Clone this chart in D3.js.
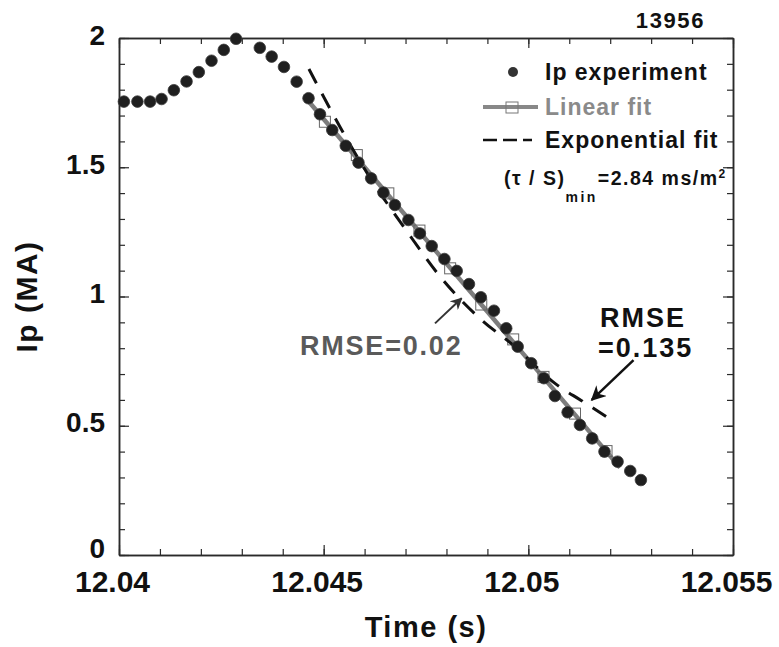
<!DOCTYPE html>
<html><head><meta charset="utf-8">
<script src="https://cdn.jsdelivr.net/npm/d3@7"></script>
<style>
body{margin:0;background:#fff}
svg{display:block}
text{font-family:"Liberation Sans",Arial,Helvetica,sans-serif;font-weight:bold}
</style>
</head><body>
<svg id="c" width="779" height="647"></svg>
<script>
// ---------- data ----------
const ipTime = [12.04012,12.04045,12.04076,12.04104,12.04134,12.04165,12.04195,12.04226,12.04256,12.04286,
  12.04344,12.04373,12.04403,12.04434,12.04463,12.04491,12.04521,12.04554,12.04585,12.04616,
  12.04646,12.04674,12.04707,12.04735,12.04764,12.04795,12.04825,12.04855,12.04884,12.04916,
  12.04946,12.04974,12.05007,12.05038,12.05065,12.05096,12.05126,12.05156,12.05186,12.05218,
  12.05249,12.05275];
const ipValue = [1.754,1.754,1.754,1.764,1.798,1.832,1.868,1.912,1.954,1.997,
  1.962,1.928,1.888,1.831,1.767,1.705,1.644,1.583,1.518,1.457,
  1.402,1.354,1.296,1.244,1.195,1.145,1.099,1.048,0.997,0.945,
  0.877,0.806,0.742,0.684,0.615,0.552,0.503,0.451,0.400,0.361,
  0.325,0.290];

const linLineTime = [12.04462, 12.05224];
const linLineValue = [1.757, 0.338];
const linMarkTime = [12.04503,12.04581,12.04658,12.04734,12.04809,12.04885,12.04963,12.05037,12.05114,12.05191];
const linMarkValue = [1.676,1.547,1.399,1.255,1.109,0.969,0.834,0.689,0.547,0.402];

const expTime = [12.04464,12.04540,12.04613,12.04699,12.04787,12.04889,12.04960,12.05070,12.05131,12.05207];
const expValue = [1.880,1.656,1.460,1.262,1.072,0.905,0.816,0.658,0.596,0.518];

const xMajorTicks = [12.04, 12.045, 12.05, 12.055];
const xTickLabels = ["12.04", "12.045", "12.05", "12.055"];
const yMajorTicks = [0, 0.5, 1, 1.5, 2];
const yTickLabels = ["0", "0.5", "1", "1.5", "2"];
const xMinorTicks = [12.040,12.041,12.042,12.043,12.044,12.045,12.046,12.047,12.048,12.049,12.050,12.051,12.052,12.053,12.054,12.055];
const yMinorTicks = [0,0.1,0.2,0.3,0.4,0.5,0.6,0.7,0.8,0.9,1,1.1,1.2,1.3,1.4,1.5,1.6,1.7,1.8,1.9,2];

const legendLabels = ["Ip experiment", "Linear fit", "Exponential fit"];
const shotLabel = "13956";
const xTitle = "Time (s)";
const yTitle = "Ip (MA)";

// ---------- layout ----------
const L = 119, R = 733, T = 38, B = 555;
const svg = d3.select("#c");
const x = d3.scaleLinear().domain([12.04, 12.055]).range([L, R]);
const y = d3.scaleLinear().domain([0, 2]).range([B, T]);
const FONT = '"Liberation Sans",Arial,Helvetica,sans-serif';

function styleAxis(g) {
  g.attr("font-family", FONT);
  g.select(".domain").attr("stroke", "#2a2a2a").attr("stroke-width", 1.5);
  g.selectAll(".tick line").attr("stroke", "#2a2a2a").attr("stroke-width", 1.2);
}

// minor ticks
svg.append("g").attr("transform", `translate(0,${B})`)
  .call(d3.axisBottom(x).tickValues(xMinorTicks).tickFormat("").tickSizeInner(-6).tickSizeOuter(0)).call(styleAxis);
svg.append("g").attr("transform", `translate(0,${T})`)
  .call(d3.axisTop(x).tickValues(xMinorTicks).tickFormat("").tickSizeInner(-6).tickSizeOuter(0)).call(styleAxis);
svg.append("g").attr("transform", `translate(${L},0)`)
  .call(d3.axisLeft(y).tickValues(yMinorTicks).tickFormat("").tickSizeInner(-6).tickSizeOuter(0)).call(styleAxis);
svg.append("g").attr("transform", `translate(${R},0)`)
  .call(d3.axisRight(y).tickValues(yMinorTicks).tickFormat("").tickSizeInner(-6).tickSizeOuter(0)).call(styleAxis);

// major ticks
const gx = svg.append("g").attr("transform", `translate(0,${B})`)
  .call(d3.axisBottom(x).tickValues(xMajorTicks).tickFormat((d, i) => xTickLabels[i]).tickSizeInner(-10).tickSizeOuter(0).tickPadding(16))
  .call(styleAxis);
gx.selectAll("text").attr("font-size", 30).attr("font-weight", "bold").attr("fill", "#111").attr("dx", -7);

svg.append("g").attr("transform", `translate(0,${T})`)
  .call(d3.axisTop(x).tickValues(xMajorTicks).tickFormat("").tickSizeInner(-10).tickSizeOuter(0)).call(styleAxis);

const gy = svg.append("g").attr("transform", `translate(${L},0)`)
  .call(d3.axisLeft(y).tickValues(yMajorTicks).tickFormat((d, i) => yTickLabels[i]).tickSizeInner(-10).tickSizeOuter(0).tickPadding(14))
  .call(styleAxis);
gy.selectAll("text").attr("font-size", 28).attr("font-weight", "bold").attr("fill", "#111")
  .attr("dy", d => d === 0 ? "0.1em" : "0.22em");

svg.append("g").attr("transform", `translate(${R},0)`)
  .call(d3.axisRight(y).tickValues(yMajorTicks).tickFormat("").tickSizeInner(-10).tickSizeOuter(0)).call(styleAxis);

// axis titles
svg.append("text").attr("x", (L + R) / 2).attr("y", 637).attr("text-anchor", "middle")
  .attr("font-size", 29).attr("letter-spacing", 1.5).attr("fill", "#111").text(xTitle);
svg.append("text").attr("transform", `translate(37,${(T + B) / 2}) rotate(-90)`).attr("text-anchor", "middle")
  .attr("font-size", 30).attr("letter-spacing", 1.5).attr("fill", "#111").text(yTitle);

// shot number
svg.append("text").attr("x", 705).attr("y", 28).attr("text-anchor", "end")
  .attr("font-size", 22).attr("letter-spacing", 1.6).attr("fill", "#111").text(shotLabel);

// ---------- marks ----------
const line = d3.line().x(d => x(d[0])).y(d => y(d[1]));
const linPts = d3.zip(linLineTime, linLineValue);
svg.append("path").datum(linPts).attr("d", line)
  .attr("fill", "none").attr("stroke", "#7d7d7d").attr("stroke-width", 4.5);

const sq = 11;
svg.append("g").selectAll("rect").data(d3.zip(linMarkTime, linMarkValue)).join("rect")
  .attr("x", d => x(d[0]) - sq / 2).attr("y", d => y(d[1]) - sq / 2)
  .attr("width", sq).attr("height", sq)
  .attr("fill", "none").attr("stroke", "#666").attr("stroke-width", 1);

const expLine = d3.line().x(d => x(d[0])).y(d => y(d[1])).curve(d3.curveMonotoneX);
svg.append("path").datum(d3.zip(expTime, expValue)).attr("d", expLine)
  .attr("fill", "none").attr("stroke", "#111").attr("stroke-width", 3)
  .attr("stroke-dasharray", "16,12");

svg.append("g").selectAll("circle").data(d3.zip(ipTime, ipValue)).join("circle")
  .attr("cx", d => x(d[0])).attr("cy", d => y(d[1])).attr("r", 5.8)
  .attr("fill", "#1f1f1f").attr("stroke", "#3a3a3a").attr("stroke-width", 0.8);

// ---------- legend ----------
const lg = svg.append("g");
lg.append("circle").attr("cx", 513).attr("cy", 72).attr("r", 5).attr("fill", "#333");
lg.append("text").attr("x", 545).attr("y", 80).attr("font-size", 23).attr("letter-spacing", 1)
  .attr("fill", "#111").text(legendLabels[0]);
lg.append("line").attr("x1", 483).attr("x2", 538).attr("y1", 107).attr("y2", 107)
  .attr("stroke", "#888").attr("stroke-width", 4);
lg.append("rect").attr("x", 506).attr("y", 102).attr("width", 12).attr("height", 11)
  .attr("fill", "none").attr("stroke", "#777").attr("stroke-width", 1);
lg.append("text").attr("x", 545).attr("y", 115).attr("font-size", 23).attr("letter-spacing", 1)
  .attr("fill", "#8a8a8a").text(legendLabels[1]);
lg.append("line").attr("x1", 483).attr("x2", 532).attr("y1", 140).attr("y2", 140)
  .attr("stroke", "#111").attr("stroke-width", 2.5).attr("stroke-dasharray", "14,6");
lg.append("text").attr("x", 545).attr("y", 148).attr("font-size", 23).attr("letter-spacing", 1)
  .attr("fill", "#111").text(legendLabels[2]);

const tau = lg.append("text").attr("x", 504).attr("y", 185).attr("font-size", 19.5)
  .attr("letter-spacing", 1.5).attr("fill", "#111");
tau.append("tspan").text("(τ / S)");
tau.append("tspan").attr("dy", 17).attr("font-size", 14).attr("letter-spacing", 2.5).text("min");
tau.append("tspan").attr("dy", -17).text("=2.84 ms/m");
tau.append("tspan").attr("dy", -7).attr("font-size", 12).attr("letter-spacing", 0).text("2");

// ---------- annotations (anchored in data coordinates) ----------
const ann1 = {text: "RMSE=0.02", tx: 12.04442, ty: 0.774, from: [12.04772, 0.896], to: [12.04837, 0.993]};
const ann2 = {lines: ["RMSE", "=0.135"], tx: [12.05175, 12.0517], ty: [0.882, 0.766],
  from: [12.05257, 0.754], to: [12.05155, 0.600]};

const defs = svg.append("defs");
function marker(id, color) {
  defs.append("marker").attr("id", id).attr("viewBox", "0 0 10 10").attr("refX", 9).attr("refY", 5)
    .attr("markerWidth", 6).attr("markerHeight", 6).attr("markerUnits", "strokeWidth").attr("orient", "auto")
    .append("path").attr("d", "M0,0 L10,5 L0,10 L3,5 Z").attr("fill", color);
}
marker("ah1", "#333");
marker("ah2", "#111");

svg.append("text").attr("x", x(ann1.tx)).attr("y", y(ann1.ty)).attr("font-size", 27)
  .attr("letter-spacing", 1.8).attr("fill", "#5a5a5a").text(ann1.text);
svg.append("line").attr("x1", x(ann1.from[0])).attr("y1", y(ann1.from[1]))
  .attr("x2", x(ann1.to[0])).attr("y2", y(ann1.to[1]))
  .attr("stroke", "#333").attr("stroke-width", 2).attr("marker-end", "url(#ah1)");

ann2.lines.forEach((t, i) => {
  svg.append("text").attr("x", x(ann2.tx[i])).attr("y", y(ann2.ty[i])).attr("font-size", 27)
    .attr("letter-spacing", 2).attr("fill", "#111").text(t);
});
svg.append("line").attr("x1", x(ann2.from[0])).attr("y1", y(ann2.from[1]))
  .attr("x2", x(ann2.to[0])).attr("y2", y(ann2.to[1]))
  .attr("stroke", "#111").attr("stroke-width", 2.5).attr("marker-end", "url(#ah2)");
</script>
</body></html>
